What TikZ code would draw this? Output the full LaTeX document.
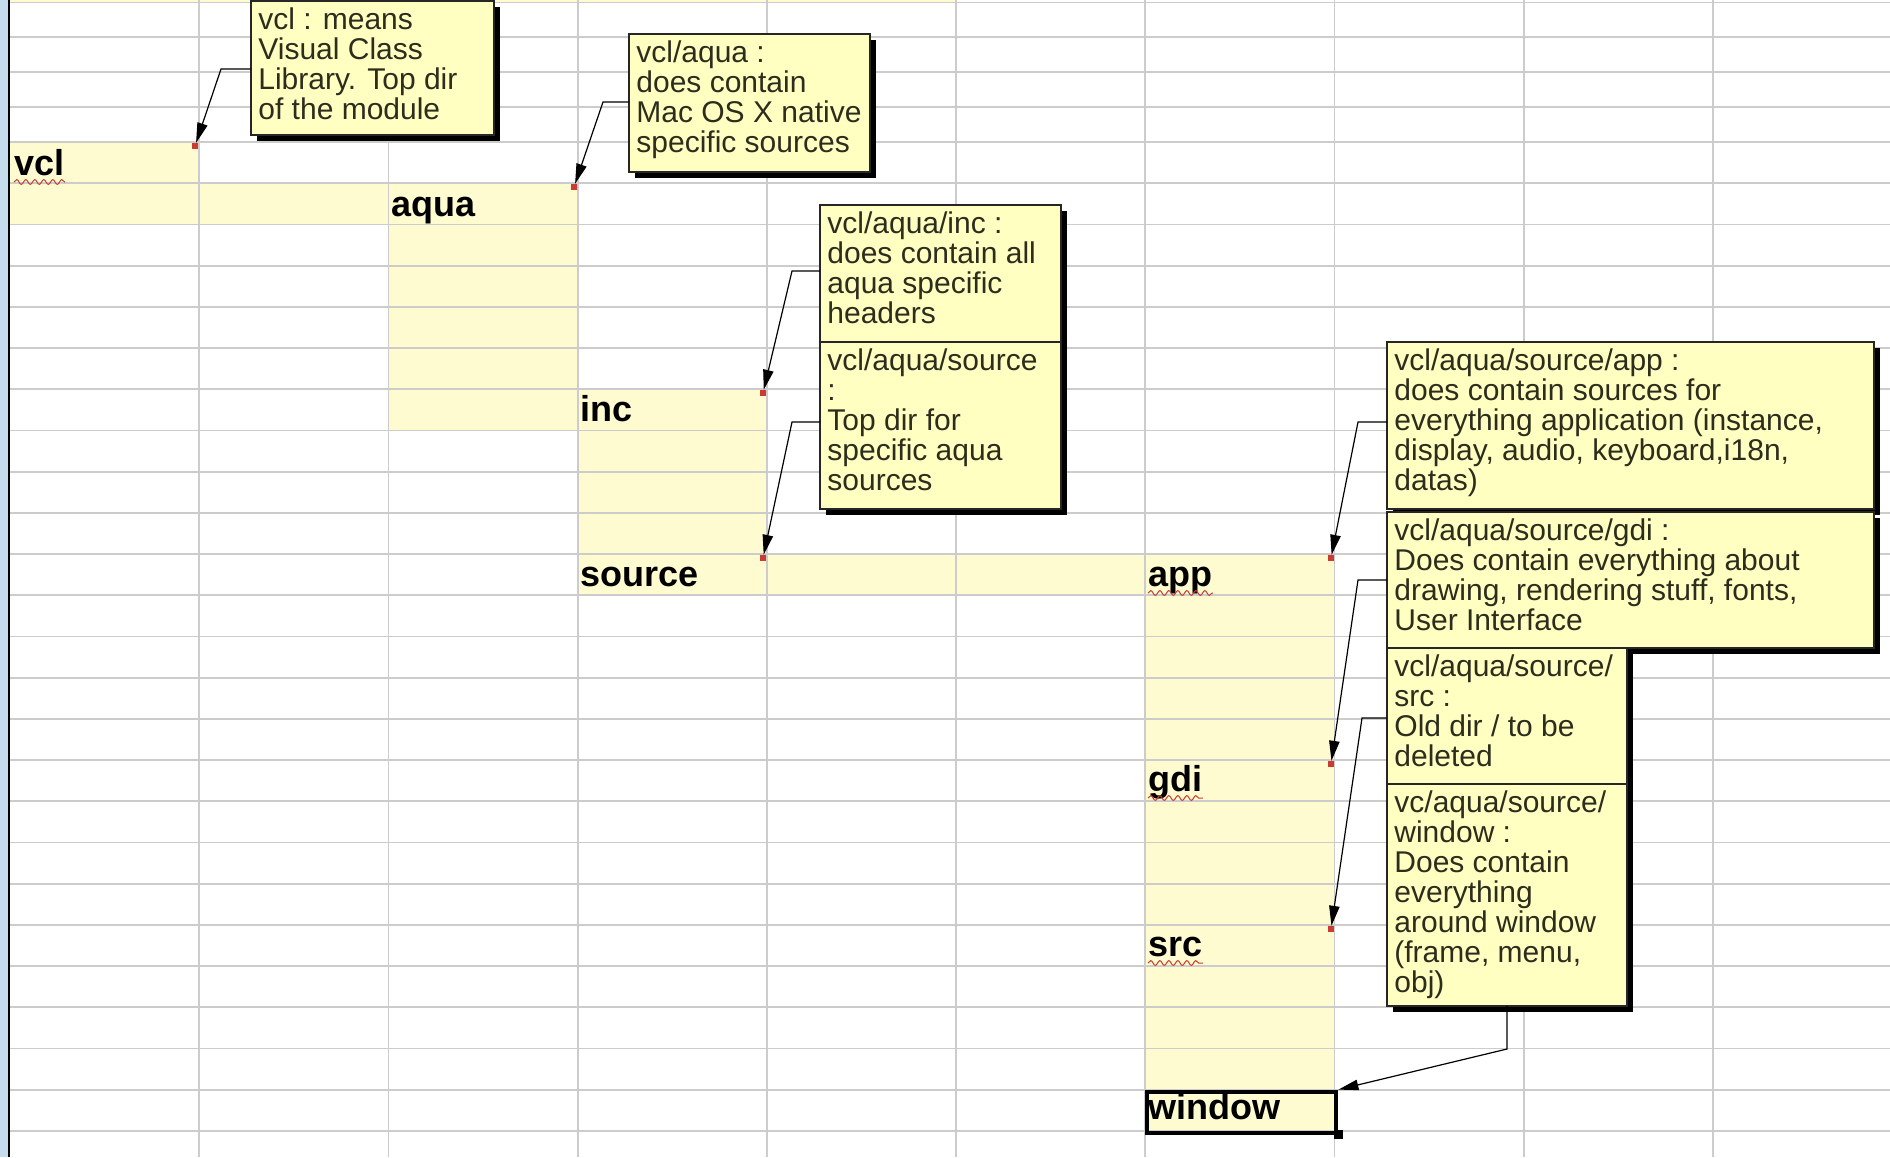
\documentclass[tikz,border=0pt]{standalone}
\usepackage{fontspec}
\setmainfont{Liberation Sans}
\usepackage{xcolor}
\usetikzlibrary{arrows.meta,positioning,shadows,decorations.pathmorphing}

\definecolor{cellyellow}{RGB}{255,251,208}
\definecolor{noteyellow}{RGB}{255,255,194}
\definecolor{gridgray}{RGB}{204,204,204}
\definecolor{sidebar}{RGB}{196,220,238}
\definecolor{markred}{RGB}{200,60,50}
\definecolor{notetextcol}{RGB}{45,45,30}

\newcommand{\notefont}{\fontsize{15}{15}\selectfont}
\newcommand{\notestrut}{\rule{0pt}{12pt}}

\begin{document}
\begin{tikzpicture}[x=0.5pt,y=-0.5pt,
  gridline/.style={gridgray,line width=0.9pt},
  dirname/.style={anchor=base west,inner sep=0pt,font=\fontsize{18}{20}\selectfont\bfseries},
  notebox/.style={anchor=north west,inner sep=0pt,outer sep=0pt,draw=black!85,line width=0.6pt,
    fill=noteyellow,drop shadow={shadow xshift=3pt,shadow yshift=-3pt,fill=black,opacity=1}},
  notetext/.style={anchor=north west,inner sep=0pt,align=left,font=\notefont,text=notetextcol},
  redmark/.style={fill=markred,inner sep=0pt,minimum size=2.8pt},
  pointer/.style={-{Triangle[length=10pt,width=5.2pt]},line width=0.6pt},
  squiggle/.style={markred,line width=0.5pt,decorate,
    decoration={snake,amplitude=1.2pt,segment length=4.5pt}}
]
\useasboundingbox (0,0) rectangle (1890,1157);
\clip (0,0) rectangle (1890,1157);

\fill[white] (0,0) rectangle (1890,1157);
\fill[sidebar] (0,0) rectangle (8,1157);
\draw[line width=1pt] (9,0) -- (9,1157);

% yellow cells
\fill[cellyellow] (10,0) rectangle (956,2.5);
\fill[cellyellow] (10,142) rectangle (199.2,183.2);
\fill[cellyellow] (10,183.2) rectangle (577.6,224.4);
\fill[cellyellow] (388.4,224.4) rectangle (577.6,430.4);
\fill[cellyellow] (577.6,389.2) rectangle (766.8,554);
\fill[cellyellow] (577.6,554) rectangle (1334.4,595.2);
\fill[cellyellow] (1145.2,595.2) rectangle (1334.4,1130.8);

% grid
\foreach \i in {1,...,9}
  \draw[gridline] ({10+189.2*\i},0) -- ({10+189.2*\i},1157);
\foreach \y in {2.5,37,72,107}
  \draw[gridline] (10,\y) -- (1890,\y);
\foreach \j in {0,...,24}
  \draw[gridline] (10,{142+41.2*\j}) -- (1890,{142+41.2*\j});

% directory names
\node[dirname] (vcl) at (14,175) {vcl};
\node[dirname] (aqua) at (391,216) {aqua};
\node[dirname] (inc) at (580,421) {inc};
\node[dirname] (source) at (580,586) {source};
\node[dirname] (app) at (1148,586) {app};
\node[dirname] (gdi) at (1148,791) {gdi};
\node[dirname] (src) at (1148,956) {src};
\node[dirname] (window) at (1148,1119) {window};

\foreach \d in {vcl,app,gdi,src}
  \draw[squiggle] ([shift={(0,7)}]\d.base west) -- ([shift={(0,7)}]\d.base east);

\node[redmark] (dvcl) at (195,146) {};
\node[redmark] (daqua) at (574,187) {};
\node[redmark] (dinc) at (763,393) {};
\node[redmark] (dsource) at (763,558) {};
\node[redmark] (dapp) at (1331,558) {};
\node[redmark] (dgdi) at (1331,764) {};
\node[redmark] (dsrc) at (1331,929) {};

\node[draw,line width=2pt,inner sep=0pt,anchor=north west,minimum width=94.6pt,minimum height=20.6pt]
  (wcell) at (1145.2,1089.6) {};
\node[fill=black,inner sep=0pt,minimum size=4.5pt] (whandle) at (wcell.south east) {};

% notes
\node[notebox,minimum width=121.5pt,minimum height=67pt] (nvcl) at (251,1) {};
\node[notetext] (tvcl) at ([shift={(7,4)}]nvcl.north west)
  {\notestrut vcl : means\\Visual Class\\Library. Top dir\\of the module};

\node[notebox,minimum width=120.5pt,minimum height=69pt] (naqua) at (629,34) {};
\node[notetext] (taqua) at ([shift={(7,4)}]naqua.north west)
  {\notestrut vcl/aqua :\\does contain\\Mac OS X native\\specific sources};

\node[notebox,minimum width=120.5pt,minimum height=68.5pt] (ninc) at (820,205) {};
\node[notetext] (tinc) at ([shift={(7,4)}]ninc.north west)
  {\notestrut vcl/aqua/inc :\\does contain all\\aqua specific\\headers};

\node[notebox,minimum width=120.5pt,minimum height=83.5pt] (nsource) at (820,342) {};
\node[notetext] (tsource) at ([shift={(7,4)}]nsource.north west)
  {\notestrut vcl/aqua/source\\:\\Top dir for\\specific aqua\\sources};

\node[notebox,minimum width=243.5pt,minimum height=83.5pt] (napp) at (1387,342) {};
\node[notetext] (tapp) at ([shift={(7,4)}]napp.north west)
  {\notestrut vcl/aqua/source/app :\\does contain sources for\\everything application (instance,\\display, audio, keyboard,i18n,\\datas)};

\node[notebox,minimum width=243.5pt,minimum height=68pt] (ngdi) at (1387,512) {};
\node[notetext] (tgdi) at ([shift={(7,4)}]ngdi.north west)
  {\notestrut vcl/aqua/source/gdi :\\Does contain everything about\\drawing, rendering stuff, fonts,\\User Interface};

\node[notebox,minimum width=120pt,minimum height=68pt] (nsrc) at (1387,648) {};
\node[notetext] (tsrc) at ([shift={(7,4)}]nsrc.north west)
  {\notestrut vcl/aqua/source/\\src :\\Old dir / to be\\deleted};

\node[notebox,minimum width=120pt,minimum height=111pt] (nwindow) at (1387,784) {};
\node[notetext] (twindow) at ([shift={(7,4)}]nwindow.north west)
  {\notestrut vc/aqua/source/\\window :\\Does contain\\everything\\around window\\(frame, menu,\\obj)};

% pointers
\draw[pointer] ([shift={(0,68)}]nvcl.north west) -- ++(-30,0) -- (dvcl);
\draw[pointer] ([shift={(0,68)}]naqua.north west) -- ++(-26,0) -- (daqua);
\draw[pointer] ([shift={(0,66)}]ninc.north west) -- ++(-28,0) -- (dinc);
\draw[pointer] ([shift={(0,80)}]nsource.north west) -- ++(-28,0) -- (dsource);
\draw[pointer] ([shift={(0,80)}]napp.north west) -- ++(-29,0) -- (dapp);
\draw[pointer] ([shift={(0,68)}]ngdi.north west) -- ++(-29,0) -- (dgdi);
\draw[pointer] ([shift={(0,70)}]nsrc.north west) -- ++(-25,0) -- (dsrc);
\draw[pointer] (nwindow.south) -- ++(0,43) -- (wcell.north east);
\end{tikzpicture}
\end{document}
